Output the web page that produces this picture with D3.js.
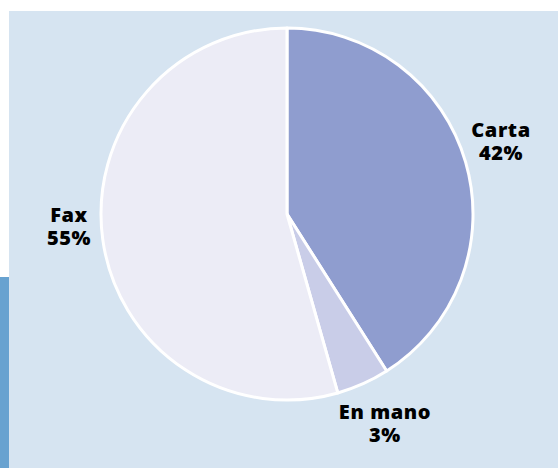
<!DOCTYPE html>
<html>
<head>
<meta charset="utf-8">
<script src="https://cdn.jsdelivr.net/npm/d3@7"></script>
<style>
  body { margin: 0; background: #ffffff; }
  svg { display: block; }
</style>
</head>
<body>
<script>
// slice sizes as drawn, and the percentages printed next to them
const categories = ["Carta", "En mano", "Fax"];
const shares = [41, 4.6, 54.4];
const pctLabels = ["42%", "3%", "55%"];
const colors = ["#8f9dcf", "#c9cde8", "#ececf6"];

const width = 558, height = 468;
const cx = 287, cy = 214, radius = 186;

const svg = d3.select("body").append("svg")
    .attr("width", width)
    .attr("height", height);

// panel and side bar
svg.append("rect")
    .attr("x", 9).attr("y", 11)
    .attr("width", width - 9).attr("height", height - 11)
    .attr("fill", "#d6e4f1");
svg.append("rect")
    .attr("x", 0).attr("y", 277)
    .attr("width", 9).attr("height", height - 277)
    .attr("fill", "#68a2d0");

const pie = d3.pie().sort(null).value(d => d);
const arc = d3.arc().innerRadius(0).outerRadius(radius);

const g = svg.append("g")
    .attr("transform", "translate(" + cx + "," + cy + ")");

g.selectAll("path")
    .data(pie(shares))
    .enter()
    .append("path")
    .attr("d", arc)
    .attr("fill", (d, i) => colors[i])
    .attr("stroke", "#ffffff")
    .attr("stroke-width", 3)
    .attr("stroke-linejoin", "round");

// label positions relative to centre
const labelPos = [[214, -77], [98, 205], [-218, 8]];

const labels = svg.append("g")
    .attr("font-family", "'Open Sans', Lato, sans-serif")
    .attr("font-weight", 800)
    .attr("font-size", 20)
    .attr("letter-spacing", 0.6)
    .attr("fill", "#000000")
    .attr("text-anchor", "middle");

categories.forEach((c, i) => {
    labels.append("text")
        .attr("x", cx + labelPos[i][0])
        .attr("y", cy + labelPos[i][1])
        .text(c);
    labels.append("text")
        .attr("x", cx + labelPos[i][0])
        .attr("y", cy + labelPos[i][1] + 23)
        .text(pctLabels[i]);
});
</script>
</body>
</html>
